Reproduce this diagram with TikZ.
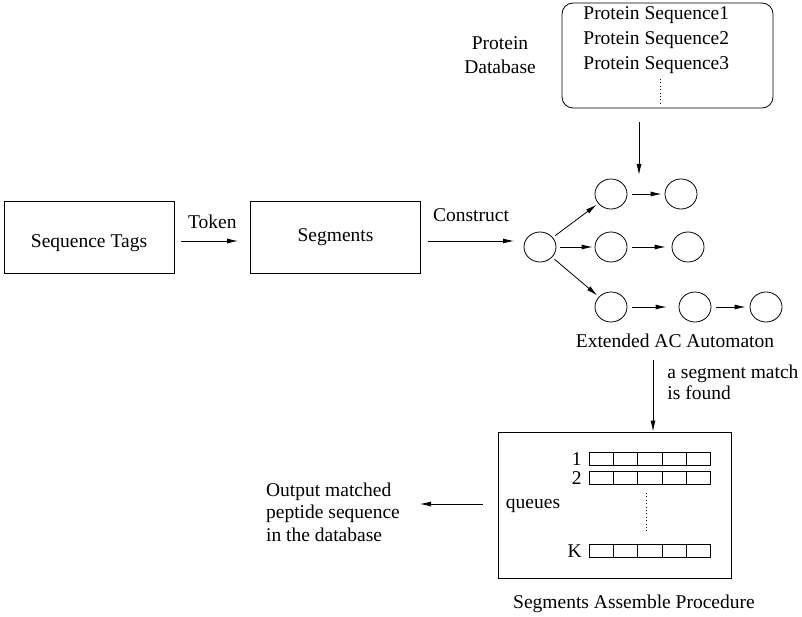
\documentclass[tikz,border=0pt]{standalone}
\usepackage{fontspec}
\setmainfont{Liberation Serif}
\usetikzlibrary{arrows.meta,shapes.geometric}

\begin{document}
\begin{tikzpicture}[x=1pt,y=-1pt,line width=0.8pt,
    every node/.style={font=\fontsize{19.5}{23}\selectfont},
    box/.style={draw,minimum width=170pt,minimum height=72pt,inner sep=0pt},
    st/.style={draw,ellipse,minimum width=32pt,minimum height=30pt,inner sep=0pt},
    arr/.style={-{Latex[length=11pt,width=5pt]}},
    dotline/.style={dash pattern=on 0.8pt off 2.6pt}]
\useasboundingbox (0,0) rectangle (802,617);

            % top: protein database
            \node[draw,rounded corners=11pt,minimum width=211pt,minimum height=105pt] (db) at (667.5, 55.5) {};
            \node[anchor=north west,align=left,inner sep=0pt,font=\fontsize{19.5}{25}\selectfont] (seqs) at (583, 6) {Protein Sequence1\\ Protein Sequence2\\ Protein Sequence3};
            \node[align=center,font=\fontsize{19.5}{24}\selectfont] (dbl) at (500, 55) {Protein\\ Database};
            \coordinate (in) at (639, 122);
            \coordinate (inend) at (639, 175);

            % left chain
            \node[box] (tags) at (89, 237) {};
            \node (tagsl) at ([yshift=-6pt]tags.center) {Sequence Tags};
            \node[box] (segs) at (335.5, 237) {Segments};
            \coordinate (cs) at (428, 241);
            \coordinate (ce) at (514, 241);

            % automaton
            \node[st] (s0) at (540, 247) {};
            \node[st] (a1) at (611, 194) {};
            \node[st] (a2) at (681, 194) {};
            \node[st] (b1) at (611, 247) {};
            \node[st] (b2) at (688, 247) {};
            \node[st] (c1) at (611, 307) {};
            \node[st] (c2) at (695, 307) {};
            \node[st] (c3) at (766, 307) {};
            \node (acl) at (675, 341) {Extended AC Automaton};

            % assemble procedure
            \node[draw,minimum width=233pt,minimum height=146pt] (asm) at (614.5, 505) {};
            \node (asml) at (634, 604) {Segments Assemble Procedure};
            \node (ql) at (533, 506) {queues};
            \node[align=left,font=\fontsize{19.5}{22.5}\selectfont] (out) at (333, 512) {Output matched\\ peptide sequence\\ in the database};
            \coordinate (fnd) at (653, 360);
            \coordinate (outs) at (483, 504);
            \coordinate (oute) at (420, 504);
            \node[align=left,anchor=north west,inner sep=0pt,font=\fontsize{19.5}{21}\selectfont] (fndl) at (667, 365) {a segment match\\ is found};

            \foreach \y/\l in {459/1, 478/2, 551/K} {
                \node[anchor=east,inner sep=0pt] (q\l) at (582, \y) {\l};
                \draw[line width=0.7pt] (589, \y-6.5) rectangle (710, \y+6.5);
                \foreach \x in {613, 637, 662, 686}
                    \draw[line width=0.7pt] (\x, \y-6.5) -- (\x, \y+6.5);
            }
            \draw[dotline] (646, 493) -- (646, 531);
            \draw[dotline] (660, 79) -- (660, 105);

            \draw[arr,shorten <=7pt,shorten >=12pt] ([yshift=-4pt]tags.east) to node[above,yshift=9pt] {Token} ([yshift=-4pt]segs.west);
            \draw[arr] (cs) to node[above,yshift=16pt] {Construct} (ce);
            \draw[arr,shorten <=3pt,shorten >=2pt] (s0) to (a1);
            \draw[arr,shorten <=4pt,shorten >=2pt] (s0) to (b1);
            \draw[arr,shorten <=3pt,shorten >=2pt] (s0) to (c1);
            \draw[arr,shorten <=5pt,shorten >=3pt] (a1) to (a2);
            \draw[arr,shorten <=5pt,shorten >=6pt] (b1) to (b2);
            \draw[arr,shorten <=5pt,shorten >=12pt] (c1) to (c2);
            \draw[arr,shorten <=5pt,shorten >=4pt] (c2) to (c3);
            \draw[arr] (in) to (inend);
            \draw[arr] (fnd) to (asm.north -| fnd);
            \draw[arr] (outs) to (oute);
\end{tikzpicture}
\end{document}
